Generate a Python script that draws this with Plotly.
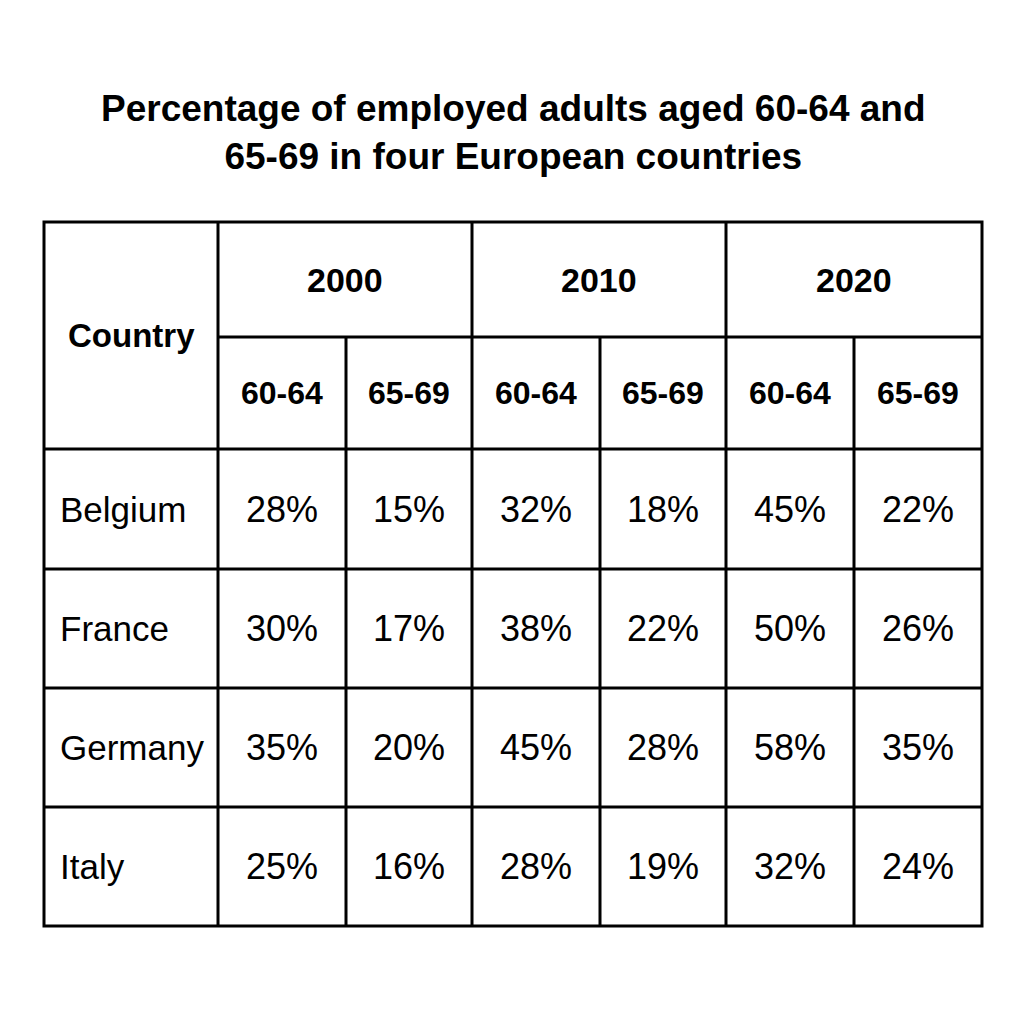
import plotly.graph_objects as go

title = "Percentage of employed adults aged 60-64 and<br>65-69 in four European countries"
years = ["2000", "2010", "2020"]
ages = ["60-64", "65-69"]
countries = ["Belgium", "France", "Germany", "Italy"]
values = {
    "Belgium": [28, 15, 32, 18, 45, 22],
    "France": [30, 17, 38, 22, 50, 26],
    "Germany": [35, 20, 45, 28, 58, 35],
    "Italy": [25, 16, 28, 19, 32, 24],
}

# layout (pixel grid, compensated for page offset)
OX, OY = 7, 8
xs = [v - OX for v in [43, 217, 345, 471, 599, 725, 853, 981]]
ys = [v - OY for v in [222, 337, 449, 569, 688, 807, 926]]
FONT = "Liberation Sans, Arial, sans-serif"

fig = go.Figure()
fig.add_trace(go.Scatter(x=[0, 1024], y=[0, 1024], mode="markers", marker=dict(opacity=0), hoverinfo="skip", showlegend=False))
shapes = []
ann = []
L = dict(color="black", width=3)
def line(x0, y0, x1, y1):
    shapes.append(dict(type="line", x0=x0, y0=y0, x1=x1, y1=y1, line=L, xref="x", yref="y"))

shapes.append(dict(type="rect", x0=xs[0], y0=ys[0], x1=xs[-1], y1=ys[-1], line=L, xref="x", yref="y"))
for i in range(1, len(xs) - 1):
    top = ys[0] if i % 2 == 1 else ys[1]
    line(xs[i], top, xs[i], ys[-1])
line(xs[1], ys[1], xs[-1], ys[1])
for j in range(2, len(ys) - 1):
    line(xs[0], ys[j], xs[-1], ys[j])

def txt(x, y, s, bold=False, size=34, xanchor="center"):
    ann.append(dict(x=x, y=y, text=f"<b>{s}</b>" if bold else s, showarrow=False, xref="x", yref="y",
                    xanchor=xanchor, yanchor="middle", font=dict(family=FONT, size=size, color="black")))

txt(512 - OX, 132 - OY, title, bold=True, size=37)
txt((xs[0] + xs[1]) / 2, (ys[0] + ys[2]) / 2, "Country", bold=True, size=33)
for k, yr in enumerate(years):
    txt((xs[1 + 2 * k] + xs[3 + 2 * k]) / 2, (ys[0] + ys[1]) / 2, yr, bold=True, size=34)
    for a, ag in enumerate(ages):
        c = 1 + 2 * k + a
        txt((xs[c] + xs[c + 1]) / 2, (ys[1] + ys[2]) / 2, ag, bold=True, size=32)
for r, ctry in enumerate(countries):
    yc = (ys[2 + r] + ys[3 + r]) / 2
    txt(xs[0] + 14, yc, ctry, size=35, xanchor="left")
    for c, v in enumerate(values[ctry]):
        txt((xs[1 + c] + xs[2 + c]) / 2, yc, f"{v}%", size=36)

fig.update_layout(width=1024, height=1024, margin=dict(l=0, r=0, t=0, b=0),
                  plot_bgcolor="white", paper_bgcolor="white", shapes=shapes, annotations=ann,
                  xaxis=dict(range=[0, 1024], visible=False, fixedrange=True),
                  yaxis=dict(range=[1024, 0], visible=False, fixedrange=True))
fig.write_html("out.html")
